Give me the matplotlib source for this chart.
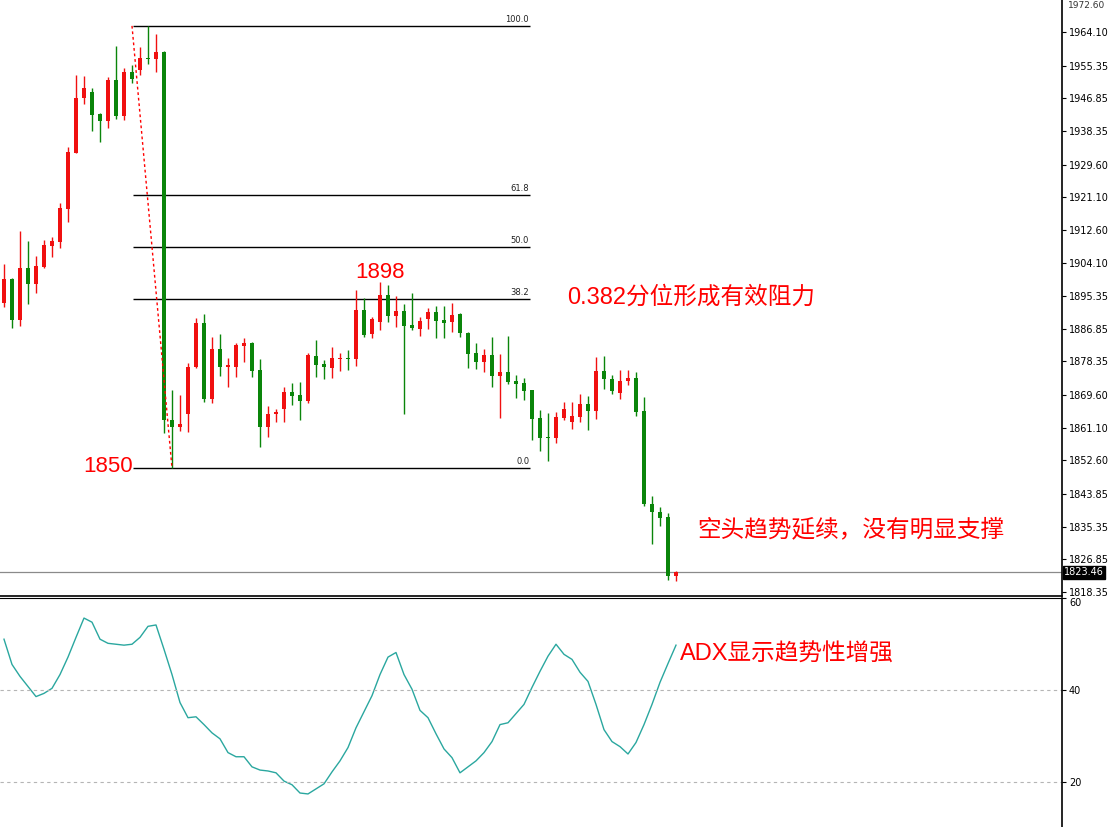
import numpy as np
import matplotlib
matplotlib.use("Agg")
import matplotlib.pyplot as plt

# ---- data (one bar per entry) ----
opens = [1893.6, 1899.8, 1889.1, 1902.7, 1898.5, 1902.9, 1908.4, 1909.4, 1918.0, 1932.6,
         1946.9, 1948.5, 1942.8, 1940.9, 1951.6, 1942.2, 1953.7, 1954.2, 1957.3, 1957.1,
         1958.9, 1863.1, 1861.3, 1864.7, 1876.9, 1888.4, 1868.6, 1881.6, 1876.9, 1876.9,
         1882.4, 1883.2, 1876.1, 1861.3, 1864.7, 1866.0, 1870.4, 1869.6, 1868.1, 1879.8,
         1877.7, 1876.7, 1879.0, 1879.3, 1879.0, 1891.8, 1885.5, 1888.6, 1895.7, 1890.2,
         1891.5, 1887.8, 1886.8, 1889.4, 1891.2, 1889.1, 1888.6, 1890.7, 1885.8, 1880.6,
         1878.2, 1880.0, 1874.6, 1875.6, 1873.3, 1872.8, 1870.9, 1863.6, 1858.7, 1858.4,
         1863.6, 1862.6, 1863.9, 1867.3, 1865.5, 1875.9, 1873.8, 1870.2, 1873.3, 1874.1,
         1865.5, 1841.3, 1839.2, 1837.9, 1822.5]
highs = [1903.7, 1900.1, 1912.3, 1909.7, 1905.8, 1910.0, 1910.8, 1919.6, 1934.2, 1952.9,
         1952.7, 1949.5, 1943.0, 1952.4, 1960.5, 1954.7, 1955.5, 1960.2, 1965.7, 1963.6,
         1959.2, 1870.9, 1869.6, 1878.0, 1889.7, 1890.7, 1884.7, 1885.5, 1879.3, 1883.2,
         1884.5, 1883.4, 1879.0, 1866.8, 1866.0, 1871.7, 1872.8, 1873.0, 1880.6, 1883.9,
         1878.7, 1882.1, 1880.6, 1881.3, 1897.0, 1894.9, 1889.9, 1899.0, 1898.3, 1895.4,
         1893.3, 1896.2, 1889.9, 1892.3, 1892.8, 1892.8, 1893.6, 1891.0, 1886.0, 1883.2,
         1881.6, 1884.7, 1880.3, 1885.0, 1874.8, 1874.1, 1870.9, 1865.7, 1864.9, 1865.2,
         1867.8, 1867.8, 1869.9, 1869.4, 1879.5, 1879.8, 1874.8, 1876.1, 1876.1, 1875.6,
         1869.1, 1843.3, 1840.5, 1838.9, 1823.8]
lows = [1892.5, 1887.1, 1887.6, 1893.3, 1896.2, 1902.7, 1905.5, 1907.9, 1914.7, 1932.6,
        1945.4, 1938.3, 1935.5, 1939.1, 1941.5, 1941.2, 1950.8, 1952.9, 1955.8, 1953.7,
        1859.7, 1850.6, 1860.3, 1860.0, 1876.7, 1867.8, 1867.5, 1874.6, 1871.7, 1874.3,
        1878.2, 1874.3, 1856.1, 1858.7, 1862.6, 1862.6, 1867.0, 1863.1, 1867.5, 1874.3,
        1873.8, 1874.1, 1875.9, 1876.1, 1877.2, 1884.7, 1884.5, 1886.5, 1888.6, 1887.3,
        1864.7, 1886.5, 1885.0, 1886.8, 1884.5, 1884.5, 1886.0, 1884.7, 1876.7, 1876.4,
        1875.6, 1871.7, 1863.6, 1872.5, 1868.8, 1868.3, 1857.9, 1855.1, 1852.5, 1857.1,
        1863.1, 1860.8, 1862.6, 1860.5, 1863.4, 1871.2, 1869.9, 1868.6, 1872.2, 1864.2,
        1840.7, 1830.8, 1835.5, 1821.5, 1821.2]
closes = [1899.8, 1889.1, 1902.7, 1898.5, 1903.2, 1908.7, 1909.7, 1918.3, 1932.9, 1946.9,
          1949.5, 1942.5, 1940.9, 1951.6, 1942.2, 1953.7, 1951.9, 1957.3, 1957.1, 1958.9,
          1863.1, 1861.3, 1862.1, 1876.9, 1888.4, 1868.6, 1881.6, 1876.9, 1877.4, 1882.6,
          1883.2, 1875.9, 1861.3, 1864.7, 1865.2, 1870.4, 1869.4, 1868.1, 1880.0, 1877.4,
          1876.9, 1879.3, 1879.3, 1879.0, 1891.8, 1885.2, 1889.4, 1895.7, 1890.2, 1891.5,
          1887.6, 1887.1, 1888.9, 1891.2, 1888.9, 1888.4, 1890.4, 1885.8, 1880.3, 1878.2,
          1880.0, 1874.6, 1875.6, 1873.0, 1872.5, 1870.7, 1863.4, 1858.4, 1858.4, 1863.9,
          1866.0, 1864.2, 1867.3, 1865.5, 1875.9, 1873.8, 1870.7, 1873.3, 1874.1, 1865.2,
          1841.3, 1839.2, 1837.6, 1822.5, 1823.46]
adx = [51.1, 45.6, 43.0, 40.8, 38.6, 39.3, 40.4, 43.4, 47.2, 51.5,
       55.7, 54.8, 51.1, 50.2, 50.0, 49.8, 50.0, 51.5, 53.9, 54.2,
       48.9, 43.4, 37.3, 34.0, 34.2, 32.5, 30.7, 29.4, 26.4, 25.5,
       25.5, 23.3, 22.6, 22.4, 22.0, 20.2, 19.4, 17.6, 17.4, 18.5,
       19.6, 22.2, 24.6, 27.5, 31.8, 35.3, 38.8, 43.4, 47.2, 48.2,
       43.4, 40.2, 35.6, 34.0, 30.5, 27.2, 25.3, 22.0, 23.3, 24.6,
       26.4, 28.8, 32.5, 32.9, 34.9, 36.9, 40.6, 44.1, 47.4, 50.0,
       47.8, 46.7, 43.9, 41.9, 36.9, 31.4, 28.8, 27.7, 26.1, 28.6,
       32.5, 36.9, 41.7, 45.8, 49.8]
last_price = 1823.46
price_ticks = [1964.10, 1955.35, 1946.85, 1938.35, 1929.60, 1921.10, 1912.60, 1904.10, 1895.35,
               1886.85, 1878.35, 1869.60, 1861.10, 1852.60, 1843.85, 1835.35, 1826.85, 1818.35]
adx_ticks = [20, 40, 60]
fib_high, fib_low = 1965.7, 1850.6
fib_levels = [100.0, 61.8, 50.0, 38.2, 0.0]
fib_start, fib_end = 16.1, 65.75   # bar index span of the retracement
swing_bars = (16, 21)

UP, DOWN = "#f01010", "#0a850a"
W, H = 1111, 827
fig = plt.figure(figsize=(W / 100, H / 100), dpi=100, facecolor="white")
ax = fig.add_axes([0, 1 - 596 / H, 1062 / W, 596 / H])
ax2 = fig.add_axes([0, 0, 1062 / W, 229 / H])
xlim = (-0.5, 132.25)

# ---- candles ----
x = np.arange(len(opens))
for i, o, h, l, c in zip(x, opens, highs, lows, closes):
    col = UP if c >= o else DOWN
    ax.vlines(i, l, h, color=col, lw=1, zorder=3)
    ax.bar(i, max(abs(c - o), 0.35), bottom=min(o, c), width=0.62, color=col, lw=0, zorder=3)

# fibonacci retracement
for lv in fib_levels:
    y = fib_low + (fib_high - fib_low) * lv / 100
    ax.hlines(y, fib_start, fib_end, color="black", lw=1, zorder=2)
    ax.text(fib_end - 0.1, y + 0.5, f"{lv:.1f}", ha="right", va="bottom", fontsize=6, color="#222")
ax.plot(swing_bars, [fib_high, fib_low], color="red", lw=1, ls=(0, (2, 2)), zorder=4)

ax.axhline(last_price, color="#8a8a8a", lw=0.9, zorder=1)
ax.set_xlim(*xlim)
ax.set_ylim(1817.31, 1972.43)

fam = ["Liberation Sans", "Noto Sans CJK SC", "DejaVu Sans"]
ax.text(47, 1901.6, "1898", color="red", fontsize=16, ha="center", va="center", family=fam)
ax.text(16.1, 1850.9, "1850", color="red", fontsize=16, ha="right", va="center", family=fam)
ax.text(70.4, 1895.1, "0.382分位形成有效阻力", color="red", fontsize=17, ha="left", va="center", family=fam)
ax.text(86.6, 1834.5, "空头趋势延续，没有明显支撑", color="red", fontsize=17, ha="left", va="center", family=fam)

# ---- ADX panel ----
ax2.plot(x, adx, color="#2aa79f", lw=1)
for g in (20, 40):
    ax2.axhline(g, color="#b5b5b5", lw=0.8, ls=(0, (3, 3)))
ax2.text(84.5, 47.8, "ADX显示趋势性增强", color="red", fontsize=17, ha="left", va="center", family=fam)
ax2.set_xlim(*xlim)
ax2.set_ylim(10.2, 60.07)

for a in (ax, ax2):
    a.set_xticks([])
    a.yaxis.tick_right()
    a.tick_params(axis="y", direction="out", length=3, width=0.8, labelsize=7, pad=2)
    a.spines["left"].set_visible(False)
    a.spines["top"].set_visible(False)
    for s in ("right", "bottom"):
        a.spines[s].set_linewidth(1.2)
ax2.spines["top"].set_visible(True)
ax2.spines["bottom"].set_visible(False)
ax.set_yticks(price_ticks)
ax.set_yticklabels([f"{t:.2f}" for t in price_ticks])
ax2.set_yticks(adx_ticks)
ax2.set_yticklabels([str(t) for t in adx_ticks])
ax2.get_yticklabels()[-1].set_va("top")

# last price tag and top label
ax.text(1.002, (last_price - 1817.31) / (1972.43 - 1817.31), f"{last_price:.2f}",
        transform=ax.transAxes, ha="left", va="center", fontsize=7, color="white",
        bbox=dict(boxstyle="square,pad=0.15", fc="black", ec="black"), zorder=10)
fig.text(1068 / W, 0.999, "1972.60", fontsize=6.5, va="top", ha="left", color="#333")

fig.savefig("out.png", dpi=100, facecolor="white")
